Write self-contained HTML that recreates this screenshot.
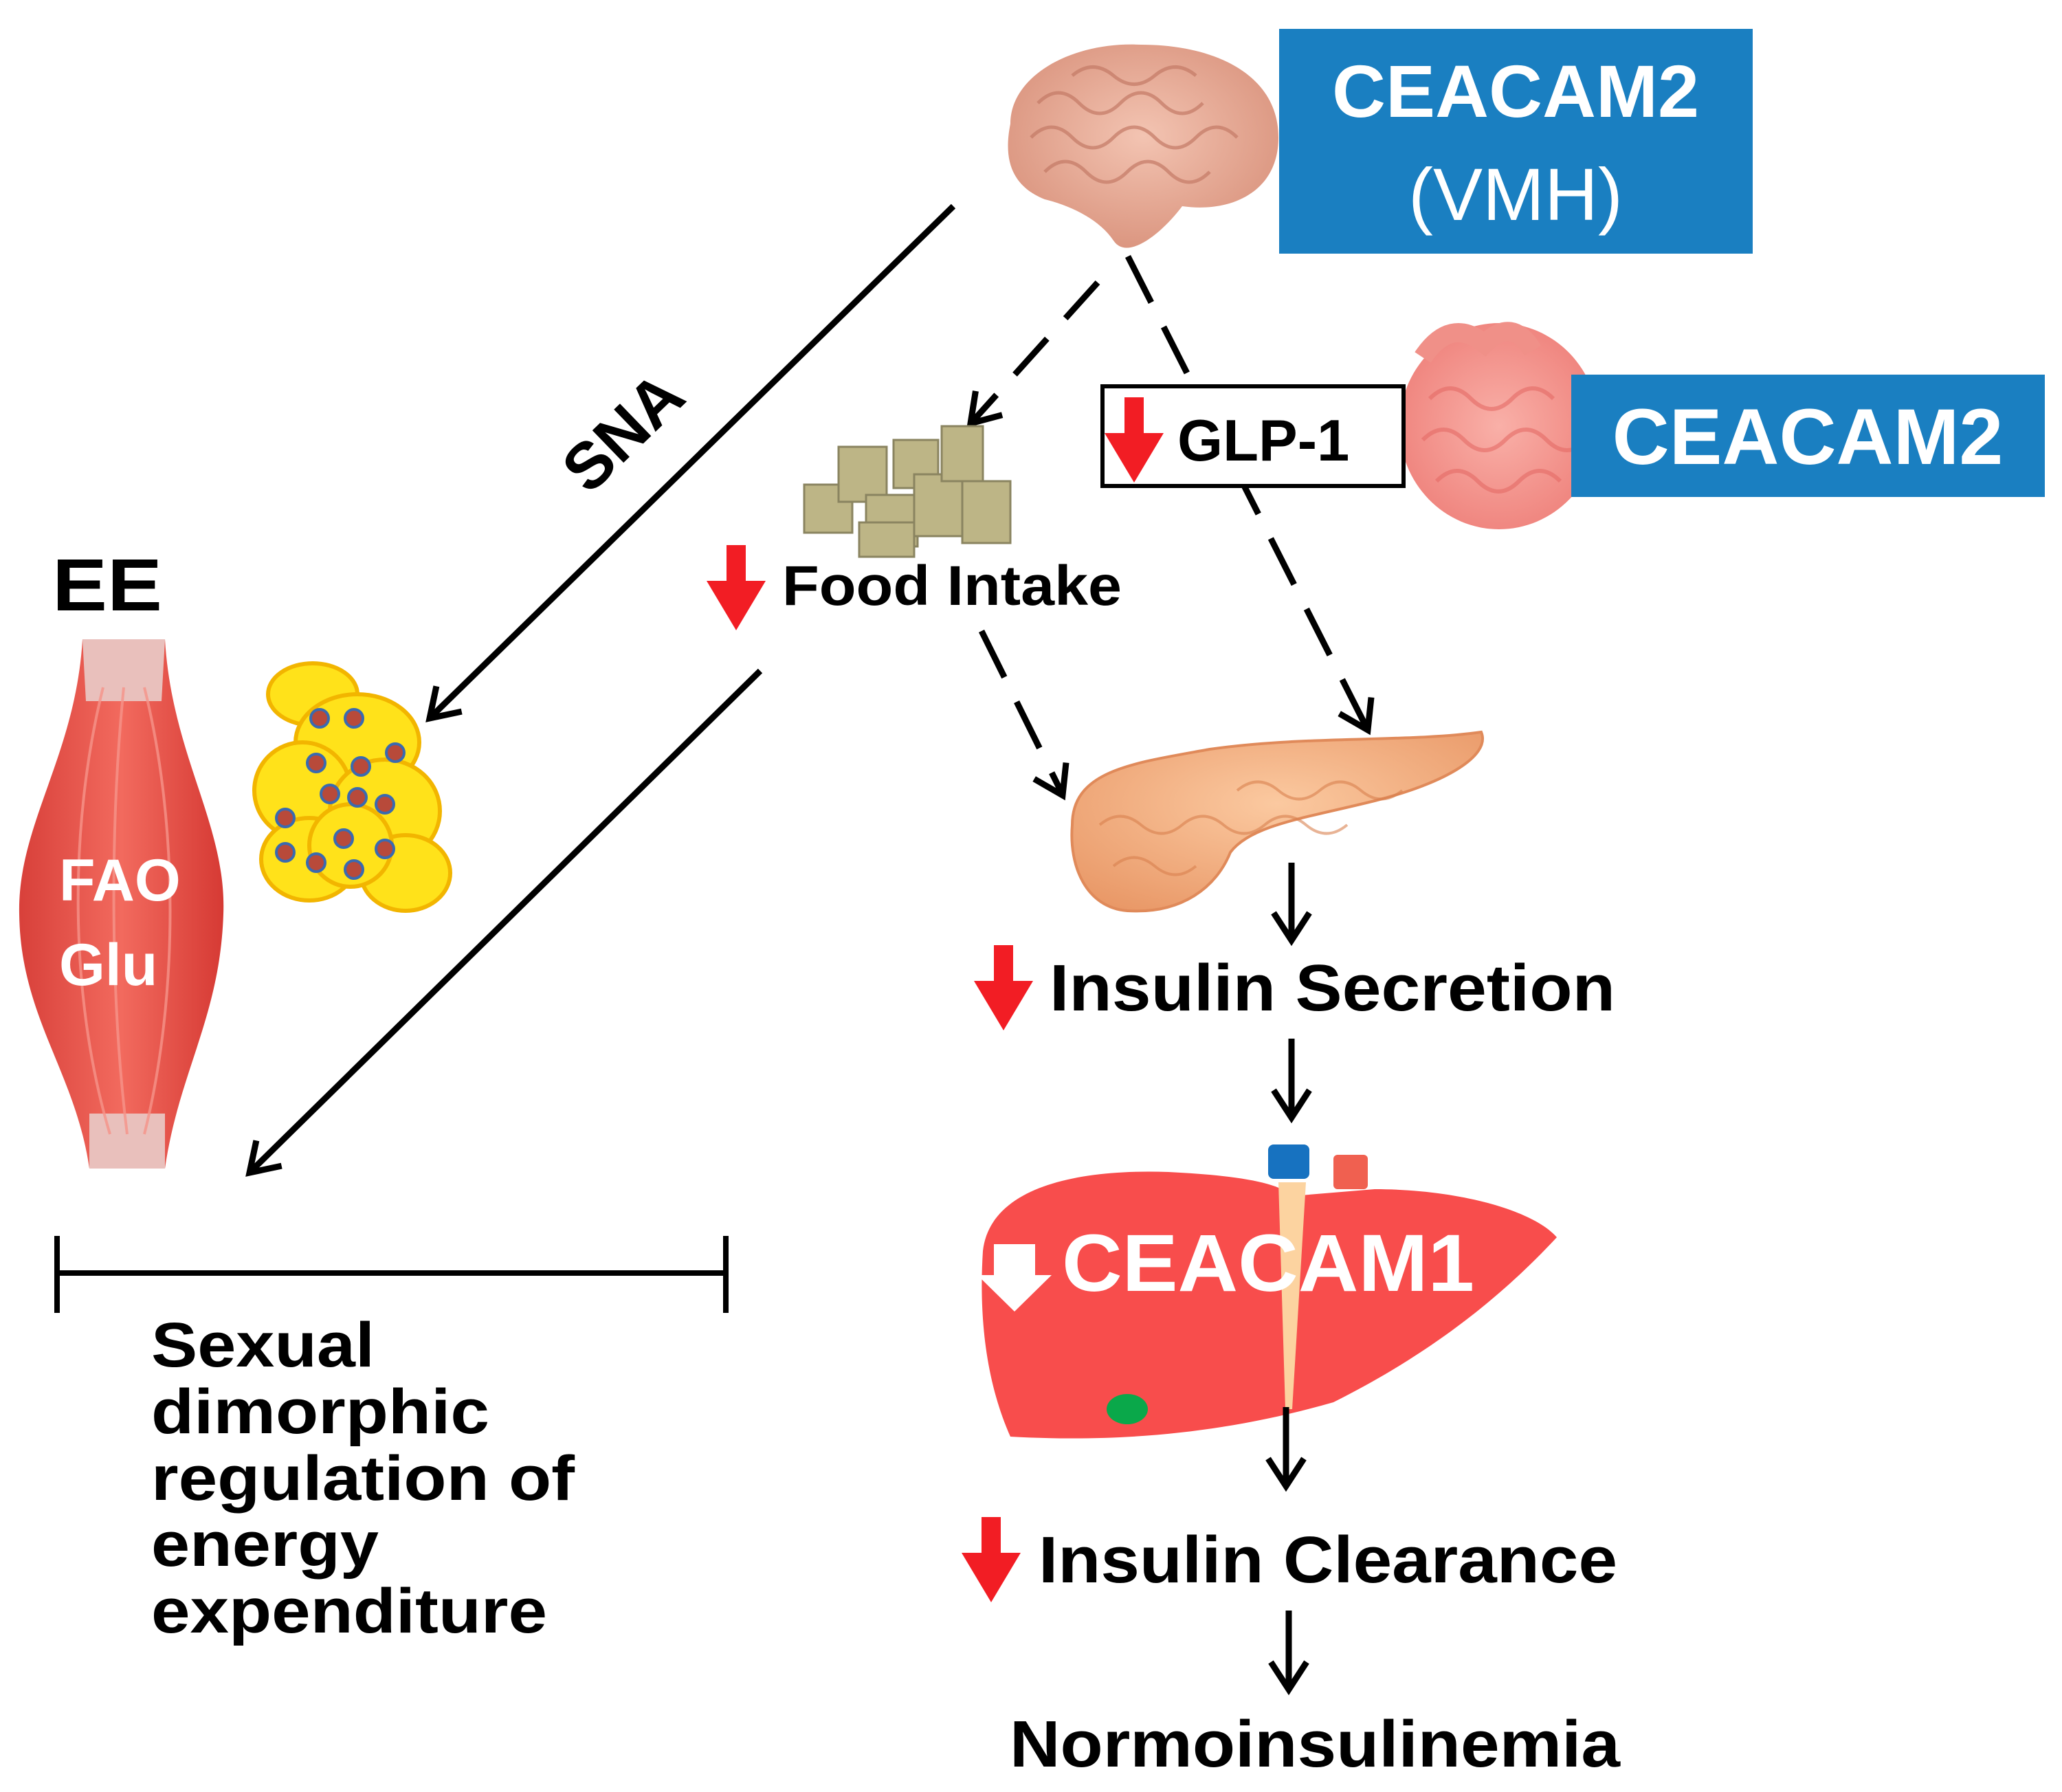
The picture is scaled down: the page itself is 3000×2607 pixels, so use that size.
<!DOCTYPE html>
<html><head><meta charset="utf-8"><style>
html,body{margin:0;padding:0;background:#fff;}
svg{display:block;}
text{font-family:"Liberation Sans",sans-serif;}
</style></head><body>
<svg width="3000" height="2607" viewBox="0 0 3000 2607" xmlns="http://www.w3.org/2000/svg">
<defs>
<radialGradient id="brain" cx="50%" cy="45%" r="60%"><stop offset="0" stop-color="#f3c4b2"/><stop offset="1" stop-color="#d9927c"/></radialGradient>
<radialGradient id="gut" cx="50%" cy="50%" r="60%"><stop offset="0" stop-color="#f9b0a8"/><stop offset="1" stop-color="#ee7e78"/></radialGradient>
<linearGradient id="musc" x1="0" x2="1"><stop offset="0" stop-color="#d8403a"/><stop offset="0.5" stop-color="#f26a5e"/><stop offset="1" stop-color="#d63a34"/></linearGradient>
<radialGradient id="panc" cx="50%" cy="40%" r="70%"><stop offset="0" stop-color="#fbc9a0"/><stop offset="1" stop-color="#e99867"/></radialGradient>
<g id="ch"><polyline points="-26,-40 0,0 26,-40" fill="none" stroke="#000" stroke-width="9"/></g>
<g id="red"><rect x="-14" y="0" width="28" height="55" fill="#f21d24"/><polygon points="-43,52 43,52 0,124" fill="#f21d24"/></g>
</defs>

<!-- Brain -->
<path d="M1470,180 C1470,110 1560,60 1660,65 C1770,65 1860,110 1860,200 C1860,280 1790,310 1720,300 C1690,340 1640,380 1620,350 C1600,320 1560,300 1520,290 C1470,270 1460,230 1470,180 Z" fill="url(#brain)"/>
<g stroke="#c47a66" stroke-width="5" fill="none" opacity="0.7">
<path d="M1510,150 q30,-30 60,0 t60,0 t60,0 t60,0"/><path d="M1500,200 q30,-30 60,0 t60,0 t60,0 t60,0 t60,0"/><path d="M1520,250 q30,-30 60,0 t60,0 t60,0 t60,0"/><path d="M1560,110 q30,-25 60,0 t60,0 t60,0"/>
</g>
<rect x="1861" y="42" width="689" height="327" fill="#1a7fc1"/>
<text x="2205" y="170" font-size="108" font-weight="bold" fill="#fff" text-anchor="middle">CEACAM2</text>
<text x="2205" y="320" font-size="108" fill="#fff" text-anchor="middle">(VMH)</text>

<!-- intestine -->
<ellipse cx="2181" cy="620" rx="145" ry="150" fill="url(#gut)"/>
<path d="M2070,520 q40,-60 90,-20 q40,-40 70,10" stroke="#f09088" stroke-width="28" fill="none"/>
<g stroke="#e56b66" stroke-width="6" fill="none" opacity="0.6"><path d="M2080,580 q30,-30 60,0 t60,0 t60,0"/><path d="M2070,640 q30,-30 60,0 t60,0 t60,0 t60,0"/><path d="M2090,700 q30,-30 60,0 t60,0 t60,0"/></g>
<rect x="2286" y="545" width="689" height="178" fill="#1a7fc1"/>
<text x="2630" y="675" font-size="115" font-weight="bold" fill="#fff" text-anchor="middle">CEACAM2</text>

<!-- SNA arrow -->
<line x1="1387" y1="300" x2="625" y2="1045" stroke="#000" stroke-width="9"/>
<g transform="translate(625,1045) rotate(45)"><use href="#ch"/></g>
<text x="909" y="660" font-size="95" font-weight="bold" transform="rotate(-44 909 631)" text-anchor="middle">SNA</text>

<line x1="1597" y1="411" x2="1415" y2="613" stroke="#000" stroke-width="9" stroke-dasharray="70,40"/>
<g transform="translate(1412,616) rotate(42)"><use href="#ch"/></g>
<line x1="1641" y1="373" x2="1988" y2="1058" stroke="#000" stroke-width="9" stroke-dasharray="75,40"/>
<g transform="translate(1990,1062) rotate(-27)"><use href="#ch"/></g>

<rect x="1604" y="562" width="438" height="145" fill="#fff" stroke="#000" stroke-width="6"/>
<g transform="translate(1650,578)"><use href="#red"/></g>
<text x="1713" y="670" font-size="85" font-weight="bold">GLP-1</text>

<g fill="#bdb586" stroke="#8a8460" stroke-width="3">
<rect x="1170" y="705" width="70" height="70"/><rect x="1220" y="650" width="70" height="80"/><rect x="1260" y="720" width="75" height="75"/><rect x="1300" y="640" width="65" height="70"/><rect x="1330" y="690" width="70" height="90"/><rect x="1370" y="620" width="60" height="80"/><rect x="1400" y="700" width="70" height="90"/><rect x="1250" y="760" width="80" height="50"/>
</g>

<g transform="translate(1071,793)"><use href="#red"/></g>
<text x="1138" y="880" font-size="82" font-weight="bold" textLength="494" lengthAdjust="spacingAndGlyphs">Food Intake</text>
<line x1="1428" y1="918" x2="1544" y2="1152" stroke="#000" stroke-width="9" stroke-dasharray="75,40"/>
<g transform="translate(1546,1157) rotate(-27)"><use href="#ch"/></g>

<line x1="1106" y1="976" x2="366" y2="1703" stroke="#000" stroke-width="9"/>
<g transform="translate(363,1706) rotate(45)"><use href="#ch"/></g>

<text x="76" y="888" font-size="108" font-weight="bold" textLength="160" lengthAdjust="spacingAndGlyphs">EE</text>
<path d="M120,930 L240,930 C250,1100 330,1200 325,1330 C320,1480 260,1560 240,1700 L130,1700 C110,1560 30,1480 28,1330 C25,1200 110,1100 120,930 Z" fill="url(#musc)"/>
<path d="M120,930 L240,930 L235,1020 L125,1020 Z" fill="#e9c0bc"/>
<path d="M130,1620 L240,1620 L240,1700 L130,1700 Z" fill="#e9c0bc"/>
<g stroke="#f6948a" stroke-width="4" fill="none" opacity="0.8"><path d="M150,1000 C100,1200 100,1450 160,1650"/><path d="M180,1000 C160,1200 160,1450 185,1650"/><path d="M210,1000 C260,1200 260,1450 210,1650"/></g>
<text x="86" y="1310" font-size="86" font-weight="bold" fill="#fff">FAO</text>
<text x="86" y="1433" font-size="86" font-weight="bold" fill="#fff">Glu</text>

<g fill="#ffe21a" stroke="#f2b500" stroke-width="6">
<ellipse cx="455" cy="1010" rx="65" ry="45"/><ellipse cx="520" cy="1080" rx="90" ry="70"/><ellipse cx="440" cy="1150" rx="70" ry="70"/><ellipse cx="560" cy="1180" rx="80" ry="75"/><ellipse cx="450" cy="1250" rx="70" ry="60"/><ellipse cx="590" cy="1270" rx="65" ry="55"/><ellipse cx="510" cy="1230" rx="60" ry="60"/>
</g>
<g fill="#b84a3a" stroke="#3a6ab0" stroke-width="4">
<circle cx="465" cy="1045" r="13"/><circle cx="515" cy="1045" r="13"/><circle cx="460" cy="1110" r="13"/><circle cx="525" cy="1115" r="13"/><circle cx="575" cy="1095" r="13"/><circle cx="480" cy="1155" r="13"/><circle cx="520" cy="1160" r="13"/><circle cx="560" cy="1170" r="13"/><circle cx="415" cy="1190" r="13"/><circle cx="500" cy="1220" r="13"/><circle cx="560" cy="1235" r="13"/><circle cx="415" cy="1240" r="13"/><circle cx="460" cy="1255" r="13"/><circle cx="515" cy="1265" r="13"/></g>

<line x1="80" y1="1852" x2="1058" y2="1852" stroke="#000" stroke-width="8"/>
<line x1="83" y1="1798" x2="83" y2="1910" stroke="#000" stroke-width="8"/>
<line x1="1056" y1="1798" x2="1056" y2="1910" stroke="#000" stroke-width="8"/>
<g font-size="92" font-weight="bold">
<text x="220" y="1988" textLength="325" lengthAdjust="spacingAndGlyphs">Sexual</text>
<text x="220" y="2085" textLength="492" lengthAdjust="spacingAndGlyphs">dimorphic</text>
<text x="220" y="2182" textLength="616" lengthAdjust="spacingAndGlyphs">regulation of</text>
<text x="220" y="2278" textLength="331" lengthAdjust="spacingAndGlyphs">energy</text>
<text x="220" y="2375" textLength="576" lengthAdjust="spacingAndGlyphs">expenditure</text>
</g>

<path d="M1560,1200 C1560,1120 1650,1110 1760,1090 C1900,1070 2050,1080 2155,1065 C2170,1100 2100,1140 2000,1165 C1900,1190 1820,1200 1790,1240 C1770,1290 1720,1330 1640,1325 C1580,1320 1555,1260 1560,1200 Z" fill="url(#panc)" stroke="#e08a5a" stroke-width="4"/>
<g stroke="#d9814f" stroke-width="4" fill="none" opacity="0.6"><path d="M1600,1200 q30,-25 60,0 t60,0 t60,0 t60,0 t60,0 t60,0"/><path d="M1620,1260 q30,-25 60,0 t60,0"/><path d="M1800,1150 q30,-25 60,0 t60,0 t60,0 t60,0"/></g>

<line x1="1879" y1="1255" x2="1879" y2="1363" stroke="#000" stroke-width="9"/><g transform="translate(1879,1368)"><use href="#ch"/></g>
<g transform="translate(1460,1375)"><use href="#red"/></g>
<text x="1527" y="1470" font-size="96" font-weight="bold" textLength="823" lengthAdjust="spacingAndGlyphs">Insulin Secretion</text>
<line x1="1879" y1="1511" x2="1879" y2="1621" stroke="#000" stroke-width="9"/><g transform="translate(1879,1626)"><use href="#ch"/></g>

<rect x="1845" y="1665" width="60" height="50" rx="8" fill="#1772c0"/>
<rect x="1940" y="1680" width="50" height="50" rx="6" fill="#f06050"/>
<path d="M1430,1820 C1440,1730 1560,1700 1700,1705 C1800,1710 1860,1720 1880,1740 L2000,1730 C2120,1730 2230,1760 2265,1800 C2200,1870 2100,1960 1940,2040 C1800,2080 1650,2100 1470,2090 C1430,2000 1425,1900 1430,1820 Z" fill="#f84d4c"/>
<ellipse cx="1640" cy="2050" rx="30" ry="22" fill="#0aa84a"/>
<path d="M1860,1720 L1900,1720 L1880,2050 L1870,2050 Z" fill="#fcd3a0"/>
<polygon points="1446,1810 1506,1810 1506,1855 1530,1855 1476,1908 1422,1855 1446,1855" fill="#fff"/>
<text x="1545" y="1878" font-size="118" font-weight="bold" fill="#fff" textLength="600" lengthAdjust="spacingAndGlyphs">CEACAM1</text>

<line x1="1871" y1="2047" x2="1871" y2="2157" stroke="#000" stroke-width="9"/><g transform="translate(1871,2162)"><use href="#ch"/></g>
<g transform="translate(1442,2207)"><use href="#red"/></g>
<text x="1511" y="2302" font-size="96" font-weight="bold" textLength="842" lengthAdjust="spacingAndGlyphs">Insulin Clearance</text>
<line x1="1875" y1="2343" x2="1875" y2="2453" stroke="#000" stroke-width="9"/><g transform="translate(1875,2458)"><use href="#ch"/></g>
<text x="1469" y="2570" font-size="96" font-weight="bold" textLength="888" lengthAdjust="spacingAndGlyphs">Normoinsulinemia</text>
</svg>
</body></html>
